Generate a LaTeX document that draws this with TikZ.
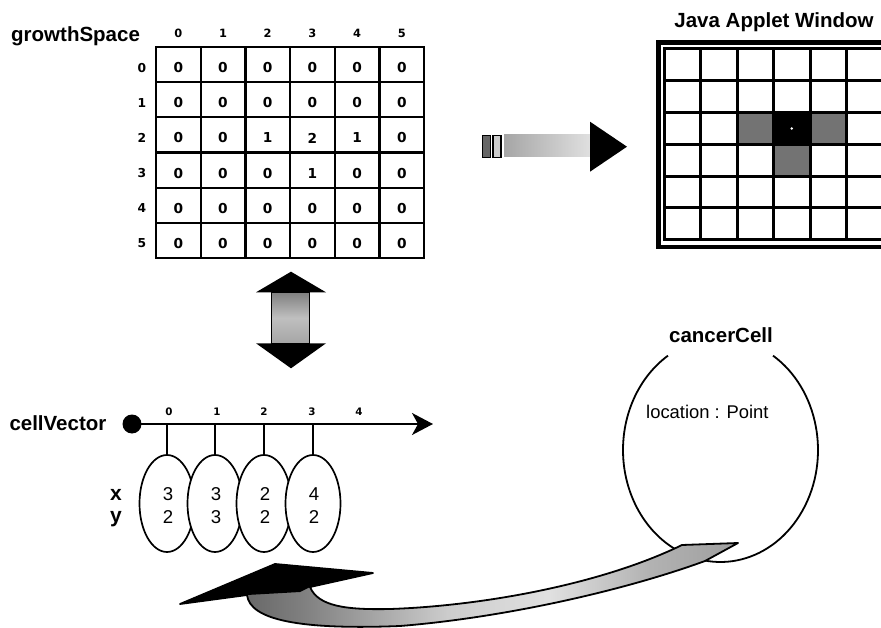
\documentclass[tikz,border=0pt]{standalone}
\usepackage{fontspec}
\setmainfont{Liberation Sans}
\newfontfamily\digfont{DejaVu Sans}
\usetikzlibrary{shapes.geometric,arrows.meta}
\colorlet{rsA}{black!70}
\colorlet{rsB}{black!50}
\colorlet{rsC}{black!20}
\colorlet{rsD}{black!12}
\colorlet{rsE}{black!30}
\colorlet{rsF}{black!38}
\pgfdeclarehorizontalshading{ribbonshade}{100bp}{color(0bp)=(rsA); color(25bp)=(rsA); color(36bp)=(rsB); color(49bp)=(rsC); color(58bp)=(rsD); color(67bp)=(rsE); color(75bp)=(rsF); color(100bp)=(rsF)}
\begin{document}
\begin{tikzpicture}[x=1pt,y=-1pt,
  lbl/.style={font=\fontsize{20.5}{24}\selectfont\bfseries, inner sep=0},
  txt/.style={font=\fontsize{18.4}{22}\selectfont, inner sep=0},
  celldig/.style={font=\digfont\fontsize{13.7}{16}\selectfont\bfseries, inner sep=0},
  rowidx/.style={font=\digfont\fontsize{12.3}{14}\selectfont\bfseries, inner sep=0},
  colidx/.style={font=\digfont\fontsize{11.4}{13}\selectfont\bfseries, inner sep=0},
  vecidx/.style={font=\digfont\fontsize{10.3}{12}\selectfont\bfseries, inner sep=0},
  gline/.style={line width=2.2, line cap=rect},
  agline/.style={line width=3, line cap=rect},
  cellell/.style={ellipse, draw, fill=white, line width=1.7, minimum width=55, minimum height=97, inner sep=0},
  xy/.style={font=\fontsize{21}{24}\selectfont\bfseries, inner sep=0},
  ellnum/.style={font=\fontsize{18.6}{22}\selectfont, inner sep=0}
]
\useasboundingbox (0,0) rectangle (881,628);
\clip (0,0) rectangle (881,628);

% ---------- growthSpace ----------
\node[lbl, anchor=base west] (gsl) at (11,41.7) {growthSpace};
\foreach \c in {0,...,5} \node[colidx] (gc\c) at ({178.3+44.7*\c},33) {\c};
\foreach \r in {0,...,5} \node[rowidx] (gr\r) at (142,{47+35.2*(\r+0.5)+3}) {\r};
\foreach \c in {0,...,6} \draw[gline] ({156+44.7*\c},47) -- ({156+44.7*\c},258.2);
\foreach \r in {0,...,6} \draw[gline] (156,{47+35.2*\r}) -- (424.2,{47+35.2*\r});
\foreach \r/\vals in {0/{0,0,0,0,0,0},1/{0,0,0,0,0,0},2/{0,0,1,2,1,0},3/{0,0,0,1,0,0},4/{0,0,0,0,0,0},5/{0,0,0,0,0,0}}{
  \foreach \v [count=\c from 0] in \vals
    \node[celldig] (v\r\c) at ({178.3+44.7*\c},{47+35.2*(\r+0.5)+3}) {\v};
}

% ---------- arrow to applet ----------
\filldraw[fill=black!60, line width=1.2] (482.5,135.5) rectangle (490.5,157.5);
\filldraw[fill=black!20, line width=1.2] (493,135.5) rectangle (501,157.5);
\shade[left color=black!35, right color=black!12] (504,135) rectangle (591,157);
\fill (590,121.7) -- (627,146.7) -- (590,171.7) -- cycle;

% ---------- Java Applet Window ----------
\node[lbl, anchor=base] (jaw) at (774,28) {Java Applet Window};
\fill[black!55] (737,112.6) rectangle (773.5,144.4);
\fill[black!55] (810,112.6) rectangle (846.5,144.4);
\fill[black!55] (773.5,144.4) rectangle (810,176.2);
\fill[black] (773.5,112.6) rectangle (810,144.4);
\fill[white] (791.75,128.5) circle (1.3);
\foreach \c in {0,...,6} \draw[agline] ({664+36.5*\c},49) -- ({664+36.5*\c},239.8);
\foreach \r in {0,...,6} \draw[agline] (664,{49+31.8*\r}) -- (895,{49+31.8*\r});
\draw[line width=4.5] (658.5,42.5) rectangle (905,247);

% ---------- double arrow ----------
\fill (291,271.7) -- (326,292.3) -- (256,292.3) -- cycle;
\shadedraw[top color=black!50, bottom color=black!35, middle color=black!25, line width=1] (271,292.3) rectangle (309,343.3);
\fill (256,343.3) -- (326,343.3) -- (291,368.3) -- cycle;

% ---------- cellVector ----------
\node[lbl, anchor=base west] (cvl) at (9.3,430) {cellVector};
\node[circle, fill, minimum size=19, inner sep=0] (vdot) at (132,424) {};
\coordinate (vend) at (433,424);
\draw[line width=1.7, -{Stealth[length=21pt, width=22pt, inset=6pt]}] (vdot.center) -- (vend);
\foreach \i/\xx in {0/169,1/217,2/264,3/312,4/359} \node[vecidx, anchor=base] (vi\i) at (\xx,415.7) {\i};
\node[cellell] (e0) at (167,503.5) {};
\node[cellell] (e1) at (215,503.5) {};
\node[cellell] (e2) at (264,503.5) {};
\node[cellell] (e3) at (313,503.5) {};
\foreach \i in {0,...,3} \draw[line width=1.7] (e\i.north) -- (e\i.north |- vend);
\node[xy, anchor=base] (xl) at (116,500) {x};
\node[xy, anchor=base] (yl) at (116,522) {y};
\foreach \i/\a/\b in {0/3/2,1/3/3,2/2/2,3/4/2}{
  \node[ellnum, anchor=base] (ex\i) at ([xshift=1pt]e\i.center |- 0,500) {\a};
  \node[ellnum, anchor=base] (ey\i) at ([xshift=1pt]e\i.center |- 0,523.3) {\b};
}

% ---------- cancerCell ----------
\coordinate (cc) at (720.5,450);
\node[lbl, anchor=base] (ccl) at (721,342.7) {cancerCell};
\draw[line width=1.8] ([shift={(-57.4:97.5 and 112)}]cc) arc[start angle=-57.4, end angle=237.4, x radius=97.5, y radius=112];
\node[txt, anchor=base west] (loc) at (646,418) {location : Point};

% ---------- curved ribbon arrow ----------
\shadedraw[shading=ribbonshade, line width=1.8, line join=round]
  (180,604) -- (275,564) -- (373,573) -- (310,587)
  .. controls (318,606) and (345,610) .. (390,609)
  .. controls (480,606) and (600,585) .. (682,545)
  -- (738,543) -- (705,561)
  .. controls (620,592) and (500,618) .. (400,626)
  .. controls (300,630) and (250,620) .. (247,595)
  -- cycle;
\fill (180,604) -- (275,564) -- (373,573) -- (310,587) -- (300,592) -- (247,595) -- cycle;
\end{tikzpicture}
\end{document}
